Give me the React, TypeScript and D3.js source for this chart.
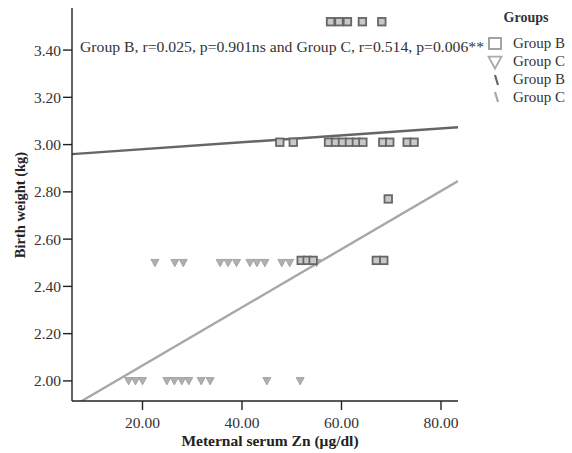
import React from "react";
import * as d3 from "d3";

// Group B (squares): [zinc, weight]
const groupBZn = [57.8, 59.5, 61.2, 64.2, 68.1, 47.6, 50.3, 57.4, 58.8, 60.2, 61.6, 63.0, 64.3, 68.3, 69.7, 73.2, 74.6, 69.4, 51.9, 53.1, 54.3, 67.0, 68.5];
const groupBWt = [3.52, 3.52, 3.52, 3.52, 3.52, 3.01, 3.01, 3.01, 3.01, 3.01, 3.01, 3.01, 3.01, 3.01, 3.01, 3.01, 3.01, 2.77, 2.51, 2.51, 2.51, 2.51, 2.51];
// Group C (triangles)
const groupCZn = [22.5, 26.5, 28.2, 35.6, 37.2, 38.9, 41.6, 43.0, 44.6, 48.0, 49.6, 55.0, 17.2, 18.6, 20.0, 24.9, 26.4, 27.9, 29.3, 31.8, 33.6, 45.0, 51.7];
const groupCWt = [2.5, 2.5, 2.5, 2.5, 2.5, 2.5, 2.5, 2.5, 2.5, 2.5, 2.5, 2.5, 2.0, 2.0, 2.0, 2.0, 2.0, 2.0, 2.0, 2.0, 2.0, 2.0, 2.0];
// Linear fits: [intercept, slope]
const fitB = [2.951, 0.00147];
const fitC = [1.819, 0.01231];

const xTicks = [20, 40, 60, 80];
const yTicks = [2.0, 2.2, 2.4, 2.6, 2.8, 3.0, 3.2, 3.4];
const annotation = "Group B, r=0.025, p=0.901ns and Group C, r=0.514, p=0.006**";
const legendTitle = "Groups";
const legendLabels = ["Group B", "Group C", "Group B", "Group C"];

const xDomain = [5.83, 83.42];
const yDomain = [1.915, 3.578];

export default function App() {
  const x = d3.scaleLinear().domain(xDomain).range([72, 458]);
  const y = d3.scaleLinear().domain(yDomain).range([401, 8]);
  const font = "'Liberation Serif', 'Times New Roman', serif";
  const darkC = "#666";
  const lightC = "#a8a8a8";
  const sq = 7.5;
  const tri = (cx: number, cy: number, s: number) =>
    `M${cx - s / 2},${cy - s / 2.4}L${cx + s / 2},${cy - s / 2.4}L${cx},${cy + s / 2}Z`;
  const line = (fit: number[]) =>
    d3.line<number>().x((v) => x(v)).y((v) => y(fit[0] + fit[1] * v))(xDomain);

  return (
    <svg width={572} height={453} style={{ position: "absolute", left: 0, top: 0, background: "#fff" }} fontFamily={font}>
      <defs>
        <clipPath id="plot">
          <rect x={72} y={8} width={386} height={393} />
        </clipPath>
      </defs>
      {/* fit lines */}
      <g clipPath="url(#plot)">
        <path d={line(fitB) || ""} stroke={darkC} strokeWidth={2.4} fill="none" />
        <path d={line(fitC) || ""} stroke={lightC} strokeWidth={2.4} fill="none" />
      </g>
      {/* points */}
      {groupCZn.map((v, i) => (
        <path key={"c" + i} d={tri(x(v), y(groupCWt[i]), 8)} fill="#b0b0b0" stroke="#999" strokeWidth={0.8} />
      ))}
      {groupBZn.map((v, i) => (
        <rect key={"b" + i} x={x(v) - sq / 2} y={y(groupBWt[i]) - sq / 2} width={sq} height={sq} fill="#c8c8c8" stroke={darkC} strokeWidth={1.8} />
      ))}
      {/* axes */}
      <line x1={72} x2={72} y1={8} y2={401} stroke="#222" strokeWidth={1.4} />
      <line x1={72} x2={458} y1={401} y2={401} stroke="#222" strokeWidth={1.4} />
      {yTicks.map((t) => (
        <g key={"yt" + t}>
          <line x1={63} x2={72} y1={y(t)} y2={y(t)} stroke="#222" strokeWidth={1.4} />
          <text x={61} y={y(t) + 5.5} textAnchor="end" fontSize={15.5} fill="#333">
            {t.toFixed(2)}
          </text>
        </g>
      ))}
      {xTicks.map((t) => (
        <g key={"xt" + t}>
          <line x1={x(t)} x2={x(t)} y1={401} y2={410} stroke="#222" strokeWidth={1.4} />
          <text x={x(t)} y={428} textAnchor="middle" fontSize={15.5} fill="#333">
            {t.toFixed(2)}
          </text>
        </g>
      ))}
      <text x={270} y={446} textAnchor="middle" fontSize={15.5} fontWeight="bold" fill="#222">
        Meternal serum Zn (μg/dl)
      </text>
      <text transform="translate(25,205) rotate(-90)" textAnchor="middle" fontSize={14.5} fontWeight="bold" fill="#222">
        Birth weight (kg)
      </text>
      <text x={80} y={52} fontSize={15} fill="#333" textLength={404} lengthAdjust="spacingAndGlyphs">
        {annotation}
      </text>
      {/* legend */}
      <text x={526} y={22} textAnchor="middle" fontSize={14} fontWeight="bold" fill="#333">
        {legendTitle}
      </text>
      <rect x={489} y={38} width={12} height={11} fill="#fff" stroke="#999" strokeWidth={1.8} />
      <path d={tri(495, 62, 13)} fill="#fff" stroke="#aaa" strokeWidth={1.8} />
      <line x1={495} x2={498} y1={75} y2={85} stroke={darkC} strokeWidth={2.2} />
      <line x1={495} x2={498} y1={92} y2={102} stroke={lightC} strokeWidth={2.2} />
      {legendLabels.map((l, i) => (
        <text key={"ll" + i} x={513} y={48 + i * 18} fontSize={15} fill="#333">
          {l}
        </text>
      ))}
    </svg>
  );
}
